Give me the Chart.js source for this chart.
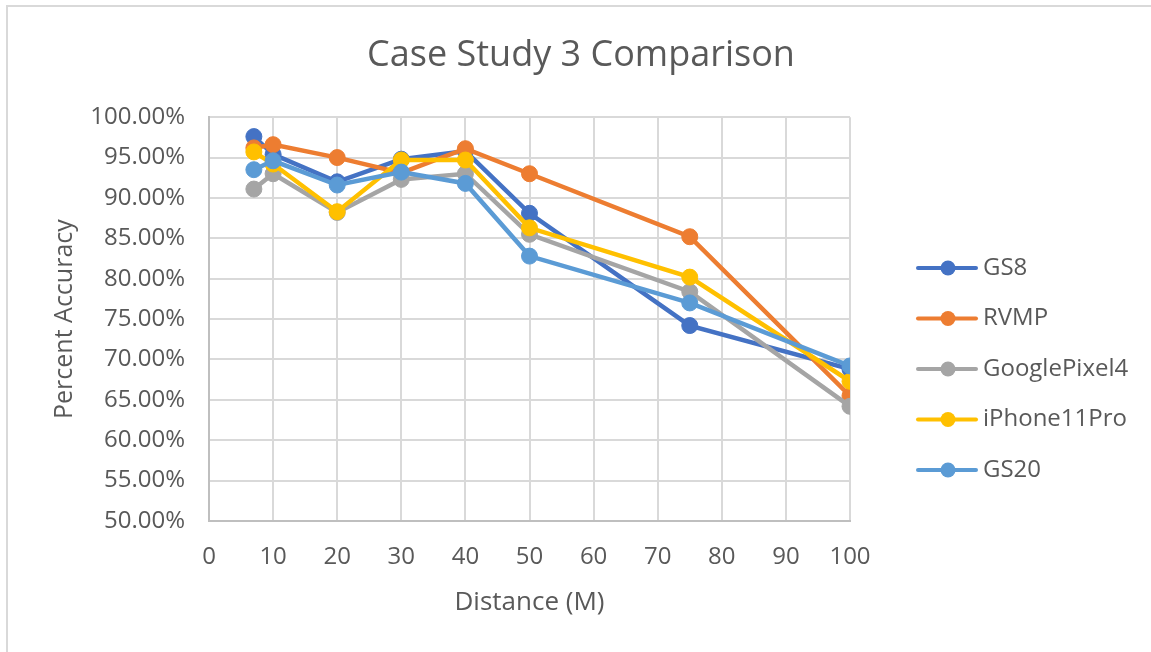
<!DOCTYPE html>
<html>
<head>
<meta charset="utf-8">
<script src="https://cdn.jsdelivr.net/npm/chart.js@4"></script>
<style>
  html, body { margin: 0; padding: 0; background: #fff; }
  #wrap { position: relative; width: 1151px; height: 652px; }
  #frame { position: absolute; left: 6px; top: 5px; right: 0; bottom: 0;
           border-left: 2px solid #d9d9d9; border-top: 2px solid #d9d9d9; }
  #chart { position: absolute; left: 0; top: 0; }
</style>
</head>
<body>
<div id="wrap">
  <div id="frame"></div>
  <canvas id="chart" width="1151" height="652"></canvas>
</div>
<script>
const distances = [7, 10, 20, 30, 40, 50, 75, 100];
const gs8 = [97.6, 95.4, 92.0, 94.8, 95.8, 88.1, 74.2, 68.8];
const rvmp = [96.2, 96.6, 95.0, 93.1, 96.1, 93.0, 85.2, 65.5];
const googlePixel4 = [91.1, 93.0, 88.2, 92.3, 93.0, 85.5, 78.4, 64.2];
const iPhone11Pro = [95.7, 94.2, 88.3, 94.7, 94.7, 86.3, 80.2, 67.3];
const gs20 = [93.5, 94.6, 91.6, 93.2, 91.8, 82.8, 77.0, 69.2];

const seriesNames = ['GS8', 'RVMP', 'GooglePixel4', 'iPhone11Pro', 'GS20'];
const seriesValues = [gs8, rvmp, googlePixel4, iPhone11Pro, gs20];
const seriesColors = ['#4472c4', '#ed7d31', '#a5a5a5', '#ffc000', '#5b9bd5'];

const FONT = "'Open Sans', sans-serif";
const TEXT = '#595959';

function toPoints(vals) {
  return vals.map((v, i) => ({ x: distances[i], y: v }));
}

// excel style legend: line with a dot, drawn to the right of the plot
const sideLegend = {
  id: 'sideLegend',
  afterDraw(chart) {
    const ctx = chart.ctx;
    const x0 = chart.chartArea.right + 68;
    ctx.save();
    chart.data.datasets.forEach((ds, i) => {
      const y = 268 + i * 50.5;
      ctx.strokeStyle = ds.borderColor;
      ctx.lineWidth = 4;
      ctx.lineCap = 'round';
      ctx.beginPath();
      ctx.moveTo(x0, y);
      ctx.lineTo(x0 + 58, y);
      ctx.stroke();
      ctx.fillStyle = ds.borderColor;
      ctx.beginPath();
      ctx.arc(x0 + 30, y, 7.5, 0, Math.PI * 2);
      ctx.fill();
      ctx.fillStyle = TEXT;
      ctx.font = '24px ' + FONT;
      ctx.textBaseline = 'middle';
      ctx.fillText(ds.label, x0 + 65, y);
    });
    ctx.restore();
  }
};

new Chart(document.getElementById('chart').getContext('2d'), {
  type: 'line',
  data: {
    datasets: seriesNames.map((name, i) => ({
      label: name,
      data: toPoints(seriesValues[i]),
      borderColor: seriesColors[i],
      backgroundColor: seriesColors[i],
      pointBackgroundColor: seriesColors[i],
      pointBorderColor: seriesColors[i],
      borderWidth: 4.5,
      pointRadius: 8,
      pointBorderWidth: 1,
      tension: 0,
      fill: false,
      order: seriesNames.length - i
    }))
  },
  options: {
    responsive: false,
    animation: false,
    layout: { padding: { left: 11, right: 0, top: 0, bottom: 34 } },
    plugins: {
      legend: { display: false },
      tooltip: { enabled: false },
      title: {
        display: true,
        text: 'Case Study 3 Comparison',
        color: TEXT,
        font: { family: FONT, size: 36, weight: 'normal' },
        padding: { top: 34, bottom: 40 }
      }
    },
    scales: {
      x: {
        type: 'linear',
        min: 0,
        max: 100,
        ticks: { stepSize: 10, color: TEXT, font: { family: FONT, size: 24 }, padding: 22 },
        grid: { color: '#d9d9d9', lineWidth: 2, drawTicks: false },
        border: { color: '#bfbfbf', width: 2 },
        title: { display: true, text: 'Distance (M)', color: TEXT,
                 font: { family: FONT, size: 26 }, padding: { top: 0, bottom: 0 } },
        afterFit(scale) { scale.height = 97; }
      },
      y: {
        min: 50,
        max: 100,
        ticks: { stepSize: 5, color: TEXT, font: { family: FONT, size: 24 }, padding: 24,
                 callback: v => v.toFixed(2) + '%' },
        grid: { color: '#d9d9d9', lineWidth: 2, drawTicks: false },
        border: { color: '#bfbfbf', width: 2 },
        title: { display: true, text: 'Percent Accuracy', color: TEXT,
                 font: { family: FONT, size: 25 }, padding: { top: 39, bottom: 0 } },
        afterFit(scale) { scale.width = 198; }
      },
      // empty right-hand axis that only reserves room for the legend
      legendSpace: {
        position: 'right',
        min: 0,
        max: 1,
        ticks: { display: false },
        grid: { display: false },
        border: { display: false },
        afterFit(scale) { scale.width = 301; }
      }
    }
  },
  plugins: [sideLegend]
});
</script>
</body>
</html>
